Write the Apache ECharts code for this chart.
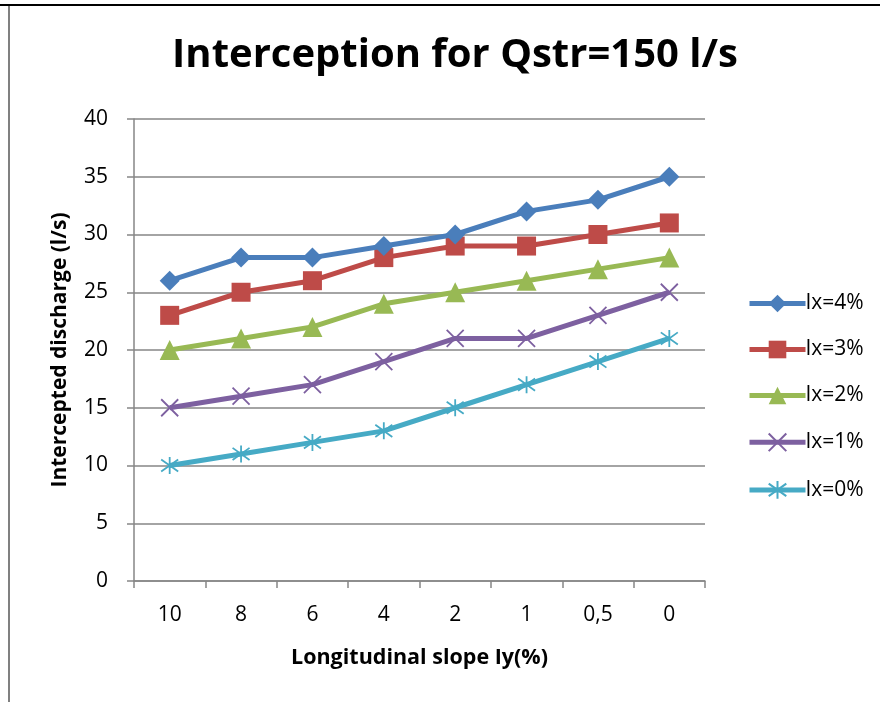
<!DOCTYPE html>
<html>
<head>
<meta charset="utf-8">
<script src="https://cdn.jsdelivr.net/npm/echarts@6/dist/echarts.min.js"></script>
<style>
html,body{margin:0;padding:0;background:#fff;}
#chart{width:880px;height:702px;}
</style>
</head>
<body>
<div id="chart"></div>
<script>
// Longitudinal slope categories (Iy, %)
const slopes = ['10', '8', '6', '4', '2', '1', '0,5', '0'];

// Intercepted discharge (l/s) for each transverse slope Ix
const ix4 = [26, 28, 28, 29, 30, 32, 33, 35];
const ix3 = [23, 25, 26, 28, 29, 29, 30, 31];
const ix2 = [20, 21, 22, 24, 25, 26, 27, 28];
const ix1 = [15, 16, 17, 19, 21, 21, 23, 25];
const ix0 = [10, 11, 12, 13, 15, 17, 19, 21];

const seriesNames = ['Ix=4%', 'Ix=3%', 'Ix=2%', 'Ix=1%', 'Ix=0%'];
const seriesData = [ix4, ix3, ix2, ix1, ix0];
const colors = ['#4a7ebb', '#be4b48', '#98b954', '#7d60a0', '#46aac5'];

const crossPath = 'path://M0 0L10 10M10 0L0 10';
const starPath = 'path://M0 0L10 10M10 0L0 10M5 -2L5 12';
const symbols = ['diamond', 'rect', 'triangle', crossPath, starPath];
const symbolSizes = [20, 19, 20, 17, 17];

const font = 'Open Sans, Noto Sans, sans-serif';

const chart = echarts.init(document.getElementById('chart'), null, {renderer: 'canvas'});

const series = seriesNames.map((name, i) => {
  const stroked = i >= 3;
  return {
    name: name,
    type: 'line',
    data: seriesData[i],
    symbol: symbols[i],
    symbolSize: symbolSizes[i],
    showAllSymbol: true,
    lineStyle: {color: colors[i], width: 5},
    itemStyle: stroked
      ? {color: 'none', borderColor: colors[i], borderWidth: 1.8}
      : {color: colors[i], borderWidth: 0},
    emphasis: {disabled: true},
    z: 10 - i
  };
});

chart.setOption({
  animation: false,
  backgroundColor: '#fff',
  color: colors,
  title: {
    text: 'Interception for Qstr=150 l/s',
    left: 450,
    top: 31,
    textAlign: 'center',
    textStyle: {fontFamily: font, fontSize: 40, fontWeight: 'bold', color: '#000'}
  },
  legend: {
    orient: 'vertical',
    left: 742,
    top: 288,
    itemGap: 25,
    itemWidth: 56,
    itemHeight: 22,
    lineStyle: {width: 5},
    textStyle: {fontFamily: font, fontSize: 21, color: '#000', padding: [0, 0, 0, -5]},
    data: seriesNames
  },
  grid: {left: 134, right: 175, top: 119, bottom: 121, containLabel: false},
  xAxis: {
    type: 'category',
    data: slopes,
    boundaryGap: true,
    name: 'Longitudinal slope Iy(%)',
    nameLocation: 'middle',
    nameGap: 66,
    nameTextStyle: {fontFamily: font, fontSize: 21.5, fontWeight: 'bold', color: '#000'},
    axisLine: {lineStyle: {color: '#868686', width: 1.5}},
    axisTick: {show: true, length: 7, alignWithLabel: false, lineStyle: {color: '#868686', width: 1.5}},
    axisLabel: {fontFamily: font, fontSize: 21, color: '#000', margin: 24}
  },
  yAxis: {
    type: 'value',
    min: 0,
    max: 40,
    interval: 5,
    name: 'Intercepted discharge (l/s)',
    nameLocation: 'middle',
    nameGap: 63,
    nameTextStyle: {fontFamily: font, fontSize: 21, fontWeight: 'bold', color: '#000'},
    axisLine: {show: true, lineStyle: {color: '#868686', width: 1.5}},
    axisTick: {show: true, length: 7, lineStyle: {color: '#868686', width: 1.5}},
    axisLabel: {fontFamily: font, fontSize: 21, color: '#000', margin: 26},
    splitLine: {lineStyle: {color: '#868686', width: 1.5}}
  },
  series: series,
  graphic: [
    {type: 'line', shape: {x1: 0, y1: 5, x2: 880, y2: 5}, style: {stroke: '#000', lineWidth: 2}, silent: true},
    {type: 'line', shape: {x1: 9, y1: 6, x2: 9, y2: 702}, style: {stroke: '#808080', lineWidth: 2}, silent: true}
  ]
});
</script>
</body>
</html>
